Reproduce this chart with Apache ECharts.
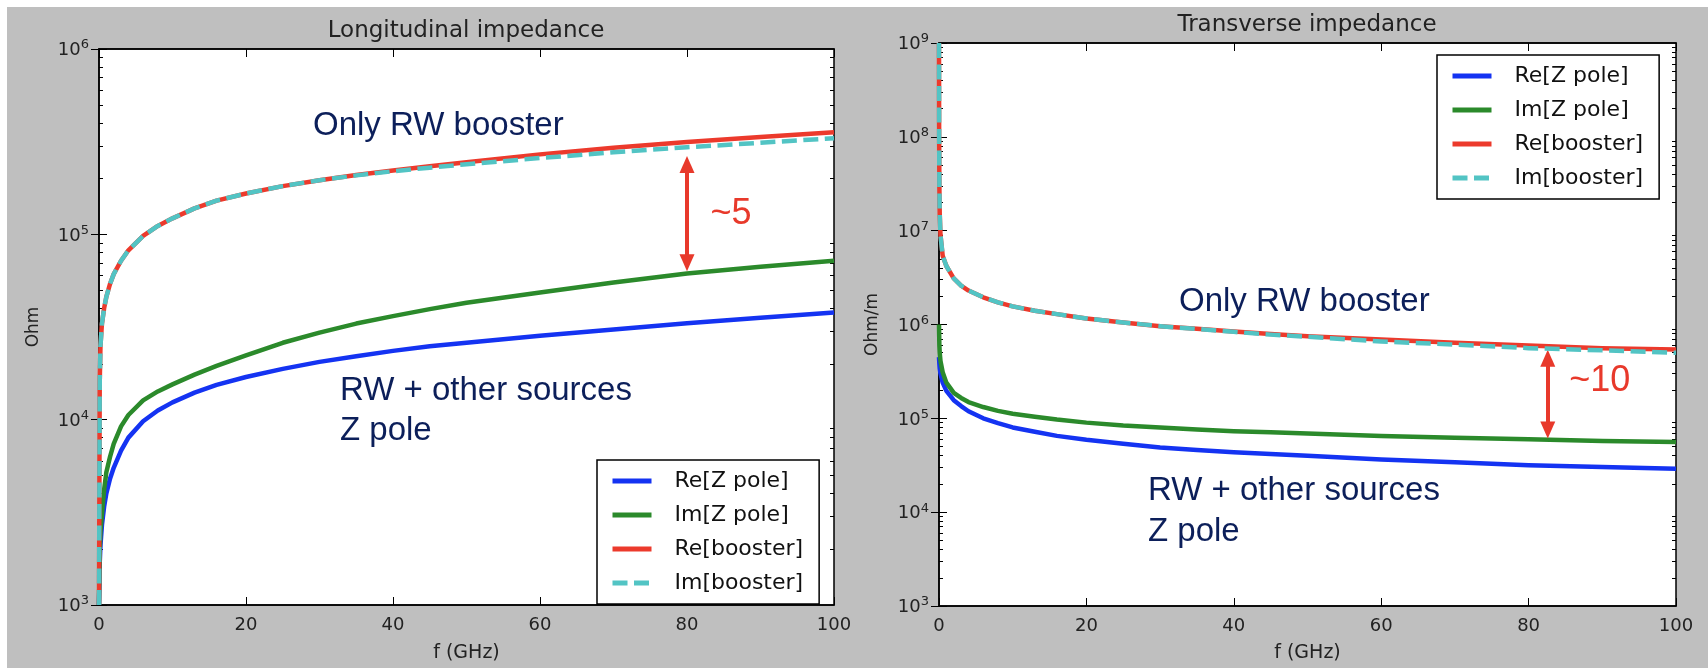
<!DOCTYPE html>
<html>
<head>
<meta charset="utf-8">
<script src="https://cdn.jsdelivr.net/npm/echarts@6/dist/echarts.min.js"></script>
<style>
  html, body { margin: 0; padding: 0; background: #ffffff; }
  #chart { width: 1708px; height: 668px; }
</style>
</head>
<body>
<div id="chart"></div>
<script>
// ---- Longitudinal impedance (Ohm) vs frequency (GHz) ----
const freqLong = [0, 0.1, 0.2, 0.4, 0.7, 1, 1.5, 2, 3, 4, 6, 8, 10, 13, 16, 20, 25, 30, 35, 40, 45, 50, 60, 70, 80, 90, 100];
const longReZpole = [1000, 1700, 2100, 2700, 3400, 4000, 4800, 5500, 6800, 8000, 9800, 11200, 12400, 14000, 15400, 17000, 18800, 20500, 22000, 23500, 24900, 26000, 28400, 30700, 33100, 35500, 37900];
const longImZpole = [1000, 2000, 2500, 3100, 4200, 5200, 6300, 7400, 9200, 10600, 12700, 14200, 15500, 17500, 19500, 22200, 26000, 29500, 33000, 36200, 39500, 42700, 48500, 55000, 61500, 66800, 72000];
const longReBooster = [1000, 16000, 25000, 33000, 40000, 46000, 54000, 61000, 72000, 82000, 98000, 111000, 122000, 138000, 152000, 166000, 182000, 196000, 209000, 221000, 233000, 245000, 270000, 293000, 315000, 335000, 355000];
const longImBooster = [1000, 16000, 25000, 33000, 40000, 46000, 54000, 61000, 72000, 82000, 98000, 111000, 122000, 138000, 152000, 166000, 182000, 196000, 208000, 219000, 229000, 239000, 258000, 277000, 295000, 312000, 330000];

// ---- Transverse impedance (Ohm/m) vs frequency (GHz) ----
const freqTrans = [0, 0.02, 0.05, 0.1, 0.2, 0.5, 1, 2, 3, 4, 6, 8, 10, 13, 16, 20, 25, 30, 35, 40, 45, 50, 60, 70, 80, 90, 100];
const transReZpole = [450000, 420000, 380000, 340000, 300000, 240000, 196000, 156000, 135000, 119000, 100000, 89000, 80000, 72000, 65000, 59000, 53500, 49000, 46000, 43600, 41700, 40000, 36400, 34000, 31700, 30300, 29000];
const transImZpole = [1000000, 800000, 600000, 500000, 410000, 310000, 240000, 187000, 165000, 149000, 132000, 120000, 112000, 104000, 97000, 90000, 84000, 80000, 76000, 73000, 71000, 69000, 65000, 62000, 60000, 57500, 56000];
const transReBooster = [1e9, 1e8, 3e7, 1.5e7, 9e6, 5.4e6, 4.2e6, 3.1e6, 2.6e6, 2.3e6, 1.95e6, 1.72e6, 1.56e6, 1.40e6, 1.29e6, 1.16e6, 1.05e6, 960000, 900000, 840000, 790000, 750000, 690000, 640000, 596000, 560000, 543000];
const transImBooster = [1e9, 1e8, 3e7, 1.5e7, 9e6, 5.4e6, 4.2e6, 3.1e6, 2.6e6, 2.3e6, 1.95e6, 1.72e6, 1.56e6, 1.40e6, 1.29e6, 1.16e6, 1.05e6, 960000, 895000, 835000, 780000, 740000, 660000, 610000, 560000, 530000, 500000];

// ---- Axis ticks ----
const freqTicks = [0, 20, 40, 60, 80, 100];
const longDecades = [1e3, 1e4, 1e5, 1e6];
const transDecades = [1e3, 1e4, 1e5, 1e6, 1e7, 1e8, 1e9];
const minorMultipliers = [2, 3, 4, 5, 6, 7, 8, 9];

const seriesNames = ['Re[Z pole]', 'Im[Z pole]', 'Re[booster]', 'Im[booster]'];
const seriesColors = ['#1433f2', '#2b8a2b', '#ec3a2c', '#52c4c4'];
const dashPattern = [15, 6.5];

// Annotation labels
const annotations = [
  { text: 'Only RW booster', x: 313, y: 126, color: '#0c1f5a' },
  { text: 'RW + other sources', x: 340, y: 391, color: '#0c1f5a' },
  { text: 'Z pole', x: 340, y: 431, color: '#0c1f5a' },
  { text: 'Only RW booster', x: 1179, y: 302, color: '#0c1f5a' },
  { text: 'RW + other sources', x: 1148, y: 491, color: '#0c1f5a' },
  { text: 'Z pole', x: 1148, y: 532, color: '#0c1f5a' }
];
// Ratio arrows (data coordinates of the two arrow-head centres) and their labels
const longRatio = { f: 80, from: 238000, to: 70300, label: '~5', labelF: 83.2, labelV: 128000 };
const transRatio = { f: 82.6, from: 437000, to: 75300, label: '~10', labelF: 85.5, labelV: 249000 };

function pairs(xs, ys) { return xs.map((x, i) => [x, ys[i]]); }
function minorTicks(decades) {
  const out = [];
  for (let i = 0; i < decades.length - 1; i++) {
    minorMultipliers.forEach(m => out.push(decades[i] * m));
  }
  return out;
}

const TICK_FONT = 'DejaVu Sans';
const ANNOT_FONT = 'Liberation Sans';
const red = '#e8392b';

const grids = [
  { left: 99, top: 49, width: 735, height: 567 },
  { left: 939, top: 43, width: 737, height: 566 }
].map(g => Object.assign(g, { show: true, backgroundColor: '#ffffff', borderColor: '#000', borderWidth: 1.5 }));

function xAxes(gridIndex, nameGap) {
  const base = {
    gridIndex, type: 'value', min: 0, max: 100, interval: 20,
    splitLine: { show: false },
    axisLine: { show: true, lineStyle: { color: '#000', width: 1.5 } },
    axisTick: { show: true, inside: true, length: 8, lineStyle: { color: '#000', width: 1 } }
  };
  return [
    Object.assign({}, base, {
      position: 'bottom',
      axisLabel: { show: true, margin: 11, color: '#222', fontSize: 18, fontFamily: TICK_FONT,
        customValues: freqTicks },
      name: 'f (GHz)', nameLocation: 'middle', nameGap: nameGap,
      nameTextStyle: { color: '#222', fontSize: 19, fontFamily: TICK_FONT }
    }),
    Object.assign({}, base, { position: 'top', axisLabel: { show: false } })
  ];
}

function yAxes(gridIndex, decades, name, nameGap) {
  const lo = decades[0], hi = decades[decades.length - 1];
  const base = { gridIndex, type: 'log', logBase: 10, min: lo, max: hi, splitLine: { show: false } };
  const minors = minorTicks(decades);
  return [
    Object.assign({}, base, {
      position: 'left',
      axisLine: { show: true, lineStyle: { color: '#000', width: 1.5 } },
      axisTick: { show: true, inside: true, length: 8, lineStyle: { color: '#000' }, customValues: decades },
      axisLabel: {
        show: true, margin: 10, customValues: decades,
        formatter: v => '{b|10}{s|' + Math.round(Math.log10(v)) + '}',
        rich: {
          b: { fontSize: 18, fontFamily: TICK_FONT, color: '#222', lineHeight: 21, verticalAlign: 'bottom' },
          s: { fontSize: 13, fontFamily: TICK_FONT, color: '#222', lineHeight: 21, verticalAlign: 'top' }
        }
      },
      name: name, nameLocation: 'middle', nameGap: nameGap, nameRotate: 90,
      nameTextStyle: { color: '#222', fontSize: 17, fontFamily: TICK_FONT }
    }),
    Object.assign({}, base, {
      position: 'right', axisLine: { show: false }, axisLabel: { show: false },
      axisTick: { show: true, inside: true, length: 8, lineStyle: { color: '#000' }, customValues: decades }
    }),
    Object.assign({}, base, {
      position: 'left', axisLine: { show: false }, axisLabel: { show: false },
      axisTick: { show: true, inside: true, length: 4, lineStyle: { color: '#000' }, customValues: minors }
    }),
    Object.assign({}, base, {
      position: 'right', axisLine: { show: false }, axisLabel: { show: false },
      axisTick: { show: true, inside: true, length: 4, lineStyle: { color: '#000' }, customValues: minors }
    })
  ];
}

function lineSeries(name, idx, gridIdx, data, extra) {
  return Object.assign({
    name, type: 'line', xAxisIndex: gridIdx * 2, yAxisIndex: gridIdx * 4,
    data, showSymbol: false, symbol: 'none', smooth: false,
    lineStyle: { color: seriesColors[idx], width: 4.5, join: 'round',
      type: idx === 3 ? dashPattern : 'solid' },
    itemStyle: { color: seriesColors[idx] },
    z: 2 + idx, animation: false, silent: true
  }, extra || {});
}

function ratioMark(r) {
  return {
    silent: true, animation: false,
    symbol: ['triangle', 'triangle'], symbolSize: [15, 17],
    lineStyle: { color: red, width: 4, type: 'solid' },
    itemStyle: { color: red },
    label: { show: false },
    data: [[{ coord: [r.f, r.from] }, { coord: [r.f, r.to] }]]
  };
}

const series = [
  lineSeries(seriesNames[0], 0, 0, pairs(freqLong, longReZpole)),
  lineSeries(seriesNames[1], 1, 0, pairs(freqLong, longImZpole)),
  lineSeries(seriesNames[2], 2, 0, pairs(freqLong, longReBooster), { markLine: ratioMark(longRatio) }),
  lineSeries(seriesNames[3], 3, 0, pairs(freqLong, longImBooster)),
  lineSeries(seriesNames[0], 0, 1, pairs(freqTrans, transReZpole)),
  lineSeries(seriesNames[1], 1, 1, pairs(freqTrans, transImZpole)),
  lineSeries(seriesNames[2], 2, 1, pairs(freqTrans, transReBooster), { markLine: ratioMark(transRatio) }),
  lineSeries(seriesNames[3], 3, 1, pairs(freqTrans, transImBooster))
];

function legend(left, top) {
  return {
    left, top, orient: 'vertical',
    data: seriesNames.map((n, i) => ({
      name: n,
      lineStyle: { color: seriesColors[i], width: 5, type: i === 3 ? dashPattern : 'solid' }
    })),
    itemWidth: 39, itemHeight: 14, itemGap: 12,
    padding: [10, 16, 10, 13],
    borderColor: '#000', borderWidth: 1.5, borderRadius: 0, backgroundColor: '#ffffff',
    itemStyle: { opacity: 0 },
    lineStyle: { width: 5 },
    textStyle: { fontSize: 22, fontFamily: TICK_FONT, color: '#111', padding: [0, 0, 0, 18] },
    selectedMode: false
  };
}

const graphics = [
  { type: 'rect', left: 0, top: 0, shape: { width: 1708, height: 7 }, style: { fill: '#ffffff' }, z: 100, silent: true },
  { type: 'rect', left: 0, top: 0, shape: { width: 7, height: 668 }, style: { fill: '#ffffff' }, z: 100, silent: true },
  { type: 'text', x: 466, y: 31, z: 100, style: { text: 'Longitudinal impedance', fill: '#222', font: '23px "DejaVu Sans"',
      textAlign: 'center', textVerticalAlign: 'middle', align: 'center', verticalAlign: 'middle' } },
  { type: 'text', x: 1307, y: 25, z: 100, style: { text: 'Transverse impedance', fill: '#222', font: '23px "DejaVu Sans"',
      textAlign: 'center', textVerticalAlign: 'middle', align: 'center', verticalAlign: 'middle' } }
];
annotations.forEach(a => graphics.push({
  type: 'text', x: a.x, y: a.y, z: 100,
  style: { text: a.text, fill: a.color, font: '33px "' + ANNOT_FONT + '"',
    textAlign: 'left', textVerticalAlign: 'middle', align: 'left', verticalAlign: 'middle' }
}));

const option = {
  backgroundColor: '#bfbfbf',
  animation: false,
  grid: grids,
  xAxis: [].concat(xAxes(0, 39), xAxes(1, 38)),
  yAxis: [].concat(yAxes(0, longDecades, 'Ohm', 57), yAxes(1, transDecades, 'Ohm/m', 58)),
  legend: [legend(597, 460), legend(1437, 55)],
  series: series,
  graphic: graphics
};

const chart = echarts.init(document.getElementById('chart'));
chart.setOption(option);

// Ratio labels placed next to their arrows, positioned in data space
function ratioLabel(r, gridIdx) {
  const p = chart.convertToPixel({ xAxisIndex: gridIdx * 2, yAxisIndex: gridIdx * 4 }, [r.labelF, r.labelV]);
  return { type: 'text', x: p[0], y: p[1], z: 100,
    style: { text: r.label, fill: red, font: '36px "' + ANNOT_FONT + '"',
      textAlign: 'left', textVerticalAlign: 'middle', align: 'left', verticalAlign: 'middle' } };
}
chart.setOption({
  graphic: graphics.concat([ratioLabel(longRatio, 0), ratioLabel(transRatio, 1)])
});
</script>
</body>
</html>
